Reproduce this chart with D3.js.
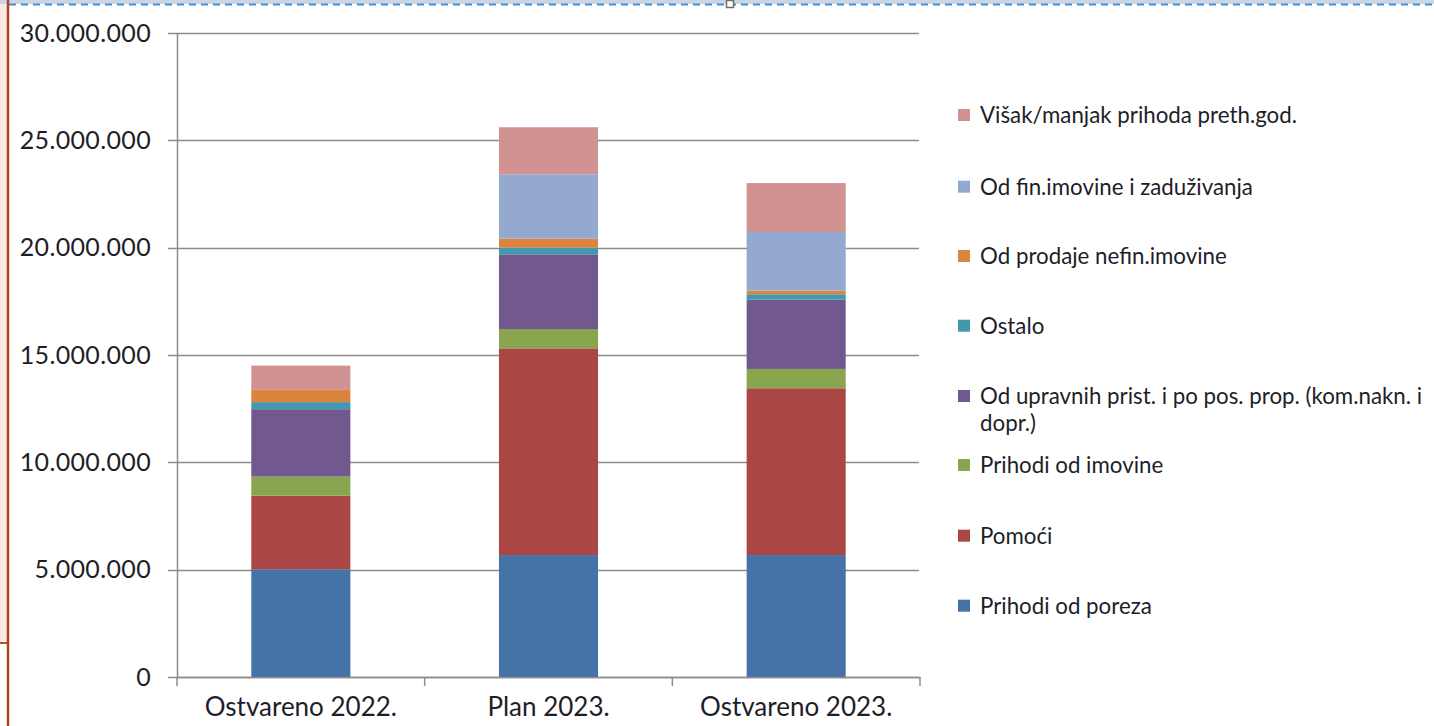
<!DOCTYPE html>
<html>
<head>
<meta charset="utf-8">
<script src="https://cdn.jsdelivr.net/npm/d3@7"></script>
<style>
  html, body { margin: 0; padding: 0; background: #ffffff; }
  svg { display: block; }
  text { font-family: Lato, "Open Sans", sans-serif; fill: #1e1e28; }
</style>
</head>
<body>
<svg id="chart" width="1434" height="726"></svg>
<script>
// ---- data ----
const categories = ["Ostvareno 2022.", "Plan 2023.", "Ostvareno 2023."];
const seriesNames = [
  "Prihodi od poreza",
  "Pomoći",
  "Prihodi od imovine",
  "Od upravnih prist. i po pos. prop. (kom.nakn. i dopr.)",
  "Ostalo",
  "Od prodaje nefin.imovine",
  "Od fin.imovine i zaduživanja",
  "Višak/manjak prihoda preth.god."
];
const prihodiOdPoreza   = [5020000, 5680000, 5680000];
const pomoci            = [3430000, 9630000, 7770000];
const prihodiOdImovine  = [885000, 900000, 900000];
const odUpravnih        = [3140000, 3480000, 3230000];
const ostalo            = [330000, 310000, 250000];
const odProdaje         = [570000, 420000, 170000];
const odFinImovine      = [0, 3000000, 2730000];
const visakManjak       = [1130000, 2190000, 2280000];
const yTicks = [0, 5000000, 10000000, 15000000, 20000000, 25000000, 30000000];

const seriesValues = [prihodiOdPoreza, pomoci, prihodiOdImovine, odUpravnih, ostalo, odProdaje, odFinImovine, visakManjak];
const colors = ["#4572a7", "#aa4643", "#89a54e", "#71588f", "#4198af", "#db843d", "#93a9cf", "#d19392"];

// ---- layout ----
const svg = d3.select("#chart");
const W = 1434, H = 726;
const plot = { left: 177, right: 920, top: 33, bottom: 677 };

// decorations (slide background pieces)
svg.append("rect").attr("x", 0).attr("y", 0).attr("width", 8).attr("height", 643).attr("fill", "#fbe9e2");
svg.append("line").attr("x1", 0).attr("x2", 8).attr("y1", 643).attr("y2", 643).attr("stroke", "#b5532a").attr("stroke-width", 2);
svg.append("rect").attr("x", 0).attr("y", 0).attr("width", W).attr("height", 4).attr("fill", "#cbd5e4");
svg.append("line").attr("x1", 9).attr("x2", W).attr("y1", 4.5).attr("y2", 4.5)
  .attr("stroke", "#3f8fdc").attr("stroke-width", 2).attr("stroke-dasharray", "7,5");
svg.append("line").attr("x1", 8).attr("x2", 8).attr("y1", 0).attr("y2", H).attr("stroke", "#a9441e").attr("stroke-width", 2.5);
svg.append("rect").attr("x", 726.5).attr("y", 0.5).attr("width", 7).attr("height", 7)
  .attr("fill", "#ffffff").attr("stroke", "#707070").attr("stroke-width", 1.5);

const y = d3.scaleLinear().domain([0, 30000000]).range([plot.bottom, plot.top]);
const x = d3.scaleBand().domain(categories).range([plot.left, plot.right]).paddingInner(0.6).paddingOuter(0.3);

const fmt = v => d3.format(",")(v).replace(/,/g, ".");

// gridlines
svg.append("g").selectAll("line").data(yTicks).join("line")
  .attr("x1", plot.left - 9).attr("x2", plot.right - 1)
  .attr("y1", d => Math.round(y(d)) + 0.5).attr("y2", d => Math.round(y(d)) + 0.5)
  .attr("stroke", "#8c8c8c").attr("stroke-width", 1.3);

// stacked data
const rows = categories.map((c, i) => {
  const r = { cat: c };
  seriesNames.forEach((s, k) => r[s] = seriesValues[k][i]);
  return r;
});
const stack = d3.stack().keys(seriesNames)(rows);

svg.append("g").selectAll("g").data(stack).join("g")
  .attr("fill", (d, i) => colors[i])
  .selectAll("rect").data(d => d).join("rect")
  .attr("x", d => x(d.data.cat))
  .attr("width", x.bandwidth())
  .attr("y", d => y(d[1]))
  .attr("height", d => y(d[0]) - y(d[1]));

// y axis
const yAxis = d3.axisLeft(y).tickValues(yTicks).tickFormat(fmt).tickSize(0).tickPadding(26);
const gy = svg.append("g").attr("transform", `translate(${plot.left},0)`).call(yAxis);
gy.select(".domain").attr("stroke", "#8c8c8c").attr("stroke-width", 1.5);
gy.selectAll("text").attr("font-size", 25).attr("letter-spacing", 0.35).attr("fill", "#1e1e28").style("font-family", "Lato, sans-serif");

// x axis
const xAxis = d3.axisBottom(x).tickSize(0).tickPadding(21);
const gx = svg.append("g").attr("transform", `translate(0,${plot.bottom})`).call(xAxis);
gx.select(".domain").attr("stroke", "#8c8c8c").attr("stroke-width", 1.5);
gx.selectAll("text").attr("font-size", 26).attr("fill", "#1e1e28").style("font-family", "Lato, sans-serif");
// category boundary ticks
const bounds = [plot.left].concat(categories.map(c => x(c) + x.bandwidth() + x.step() * 0.3));
svg.append("g").selectAll("line").data(bounds).join("line")
  .attr("x1", d => d).attr("x2", d => d)
  .attr("y1", plot.bottom).attr("y2", plot.bottom + 9)
  .attr("stroke", "#8c8c8c").attr("stroke-width", 1.5);

// legend
const legendY = [605.7, 535.7, 465, 396, 325.7, 256, 186.7, 115];
const legend = svg.append("g");
seriesNames.forEach((s, i) => {
  const g = legend.append("g").attr("transform", `translate(958,${legendY[i]})`);
  g.append("rect").attr("x", 0).attr("y", -6).attr("width", 12).attr("height", 12).attr("fill", colors[i]);
  const t = g.append("text").attr("x", 22).attr("y", 0).attr("dy", "0.35em").attr("font-size", 22.3);
  if (s.length > 40) {
    t.append("tspan").attr("x", 22).text("Od upravnih prist. i po pos. prop. (kom.nakn. i");
    t.append("tspan").attr("x", 22).attr("dy", 27).text("dopr.)");
  } else {
    t.text(s);
  }
});
</script>
</body>
</html>
